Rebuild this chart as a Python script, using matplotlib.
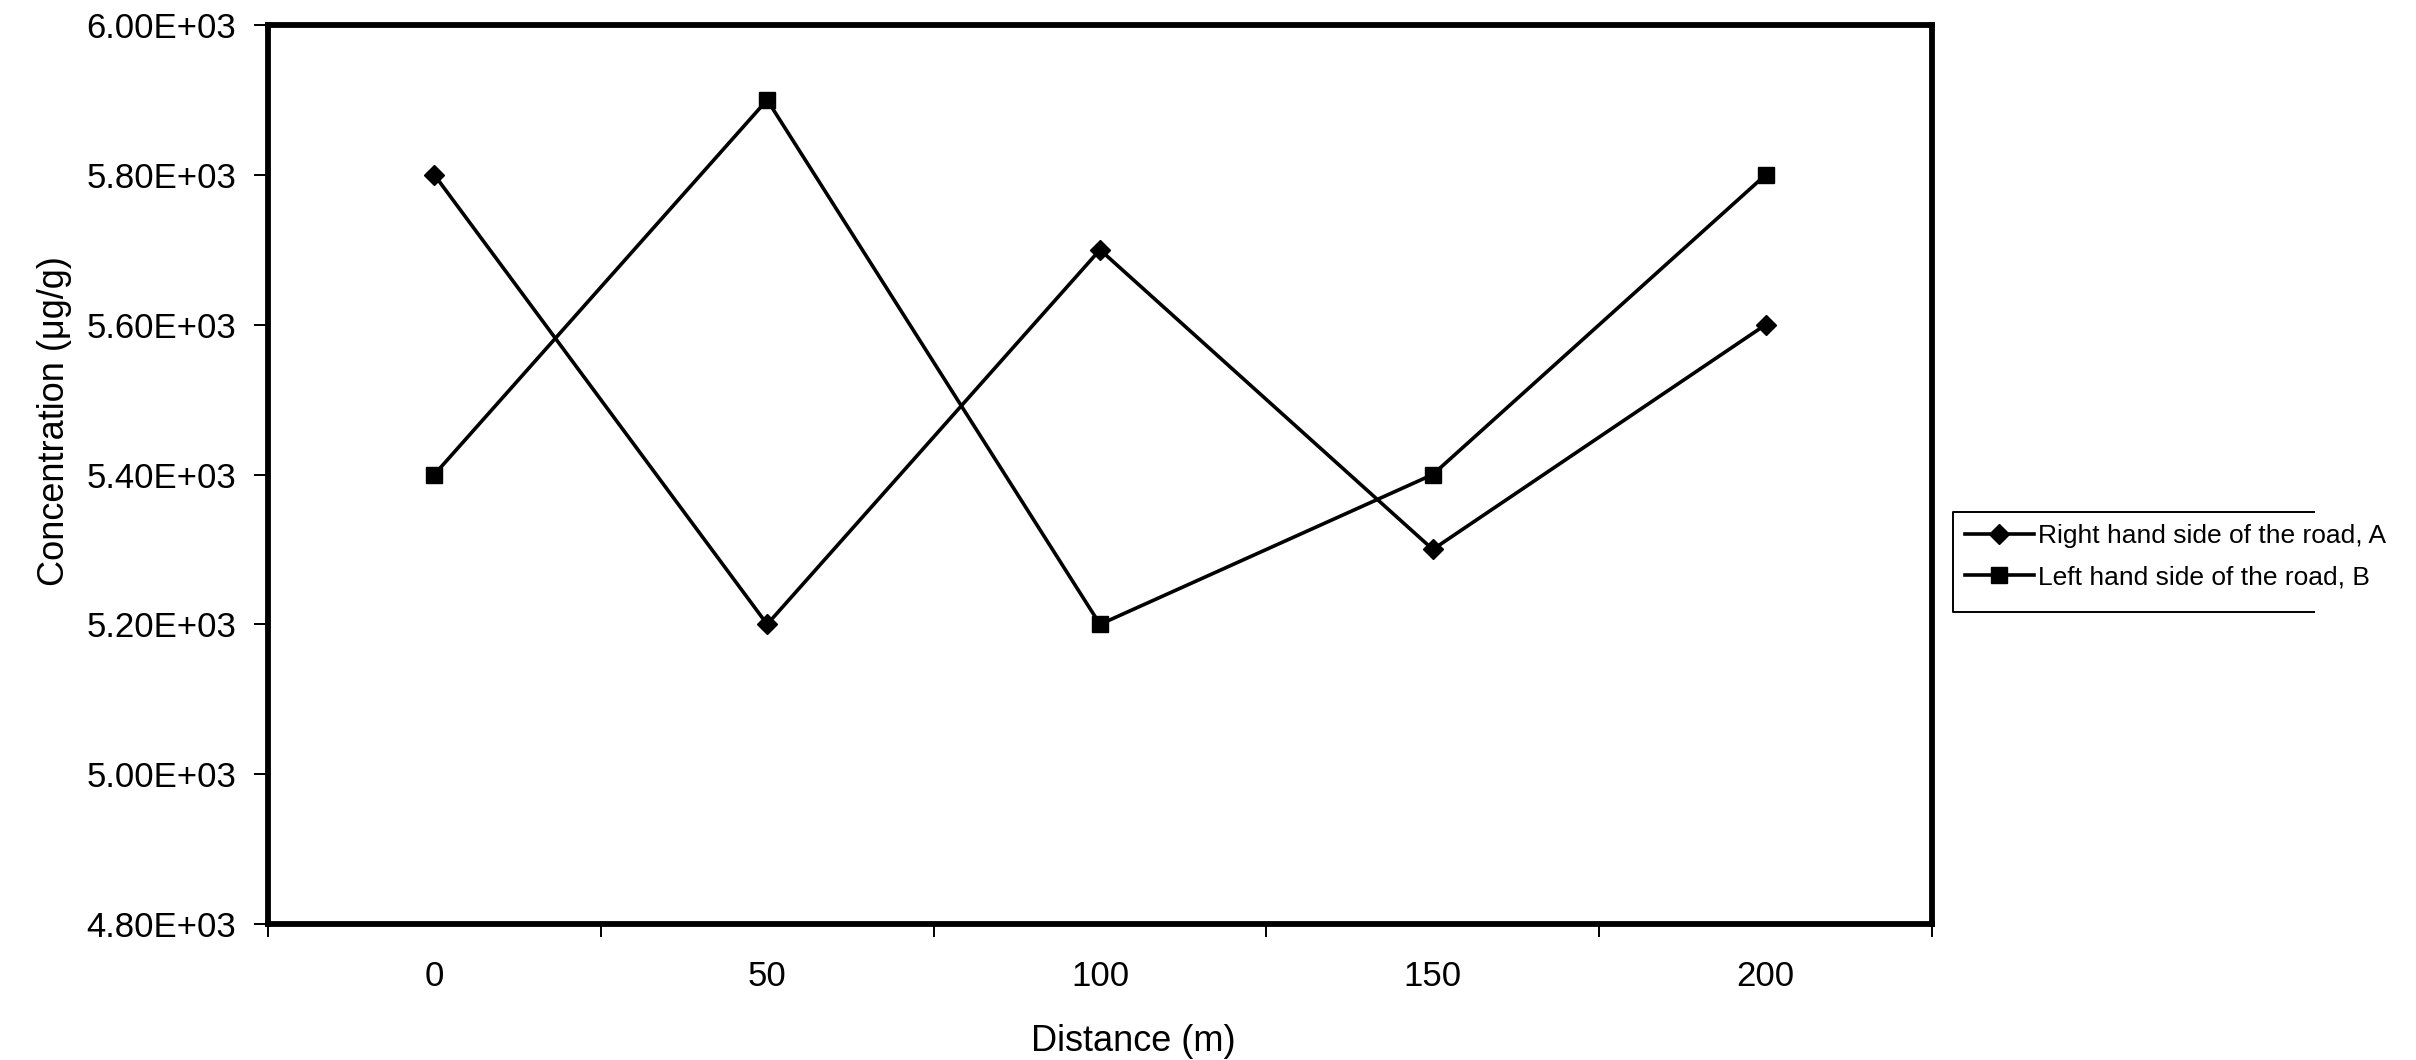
import numpy as np
import matplotlib.pyplot as plt
from matplotlib.lines import Line2D
from matplotlib.ticker import FixedLocator, FuncFormatter

# Distance from the road (m) and concentration readings on each side
distance = [0, 50, 100, 150, 200]
right_side = [5800, 5200, 5700, 5300, 5600]
left_side = [5400, 5900, 5200, 5400, 5800]

y_ticks = [4800, 5000, 5200, 5400, 5600, 5800, 6000]

plt.rcParams['font.family'] = ['Liberation Sans', 'DejaVu Sans']

fig = plt.figure(figsize=(24.16, 10.6), dpi=100)
ax = fig.add_axes([0.1109, 0.1283, 0.6888, 0.8481])

# Categories sit in the middle of each slot, like a spreadsheet line chart
x_pos = np.arange(len(distance))
ax.plot(x_pos, right_side, color='black', linewidth=2.6, marker='D', markersize=10.5,
        label='Right hand side of the road, A')
ax.plot(x_pos, left_side, color='black', linewidth=2.6, marker='s', markersize=12,
        label='Left hand side of the road, B')

ax.set_xlim(-0.5, len(distance) - 0.5)
ax.set_ylim(y_ticks[0], y_ticks[-1])

# Tick marks between categories, labels under the category centres
ax.xaxis.set_major_locator(FixedLocator(np.arange(len(distance) + 1) - 0.5))
ax.xaxis.set_major_formatter(FuncFormatter(lambda v, p: ''))
ax.xaxis.set_minor_locator(FixedLocator(x_pos))
ax.xaxis.set_minor_formatter(FuncFormatter(lambda v, p: str(distance[int(round(v))])))
ax.tick_params(axis='x', which='major', direction='out', length=9, width=1.4)
ax.tick_params(axis='x', which='minor', length=0, pad=26, labelsize=25)

ax.set_yticks(y_ticks)
ax.yaxis.set_major_formatter(FuncFormatter(lambda v, p: '{:.2E}'.format(v)))
ax.tick_params(axis='y', direction='out', length=10, width=1.4, pad=13, labelsize=25)

for side in ['left', 'right', 'top', 'bottom']:
    ax.spines[side].set_linewidth(4.2)

ax.set_xlabel('Distance (m)', fontsize=26)
ax.xaxis.set_label_coords(0.52, -0.111)
ax.set_ylabel('Concentration (μg/g)', fontsize=26)
ax.yaxis.set_label_coords(-0.118, 0.56)

leg = fig.legend(loc='upper left', bbox_to_anchor=(0.8084, 0.517), frameon=False,
                 fontsize=19, handlelength=2.6, handletextpad=0.15,
                 labelspacing=0.65, borderpad=0.45, borderaxespad=0)

# Legend box outline, open on the right side
fig.add_artist(Line2D([0.9578, 0.8084, 0.8084, 0.9578], [0.5170, 0.5170, 0.4226, 0.4226],
                      transform=fig.transFigure, color='black', linewidth=1.4))

plt.savefig('out.png', dpi=100)
